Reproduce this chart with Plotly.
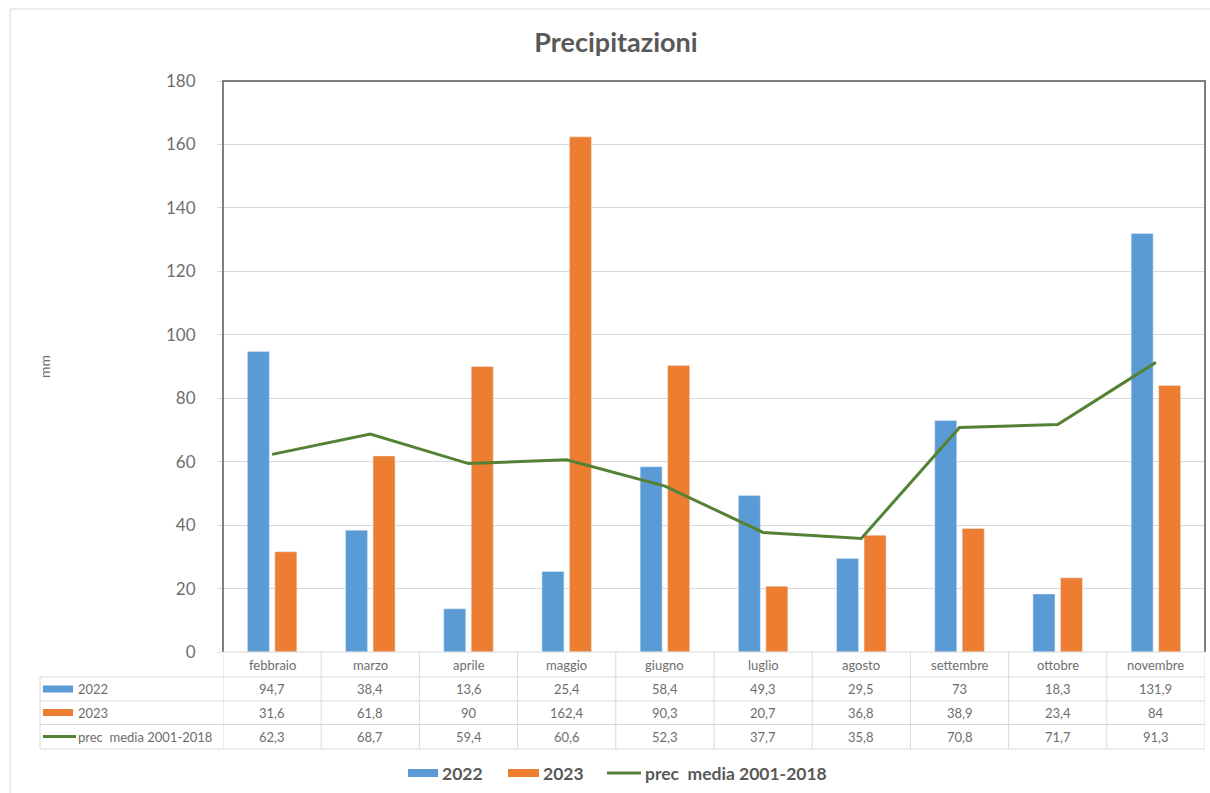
import plotly.graph_objects as go

# Monthly precipitation (mm)
mesi = ["febbraio", "marzo", "aprile", "maggio", "giugno", "luglio",
        "agosto", "settembre", "ottobre", "novembre"]
prec_2022 = [94.7, 38.4, 13.6, 25.4, 58.4, 49.3, 29.5, 73, 18.3, 131.9]
prec_2023 = [31.6, 61.8, 90, 162.4, 90.3, 20.7, 36.8, 38.9, 23.4, 84]
prec_media = [62.3, 68.7, 59.4, 60.6, 52.3, 37.7, 35.8, 70.8, 71.7, 91.3]

serie_nomi = ["2022", "2023", "prec  media 2001-2018"]
y_ticks = [0, 20, 40, 60, 80, 100, 120, 140, 160, 180]

BLU = "#5B9BD5"
ARANCIO = "#ED7D31"
VERDE = "#548235"
TESTO = "#595959"
TESTO_CHIARO = "#6E6E6E"
GRIGLIA = "#D9D9D9"
FONT = "Lato, 'Open Sans', sans-serif"

W, H = 1210, 793
ML, MR, MT, MB = 223, 5, 81, 141
PW = W - ML - MR
PH = H - MT - MB


def px_x(x):
    return (x - ML) / PW


def px_y(y):
    return 1 - (y - MT) / PH


def fmt(v):
    if float(v).is_integer():
        return str(int(v))
    return f"{v}".replace(".", ",")


fig = go.Figure()
fig.add_trace(go.Bar(x=mesi, y=prec_2022, name=serie_nomi[0],
                     marker_color=BLU, showlegend=False))
fig.add_trace(go.Bar(x=mesi, y=prec_2023, name=serie_nomi[1],
                     marker_color=ARANCIO, showlegend=False))
fig.add_trace(go.Scatter(x=mesi, y=prec_media, name=serie_nomi[2],
                         mode="lines", line=dict(color=VERDE, width=3),
                         showlegend=False))

shapes = []
annotations = []

# outer chart frame
shapes.append(dict(type="rect", xref="paper", yref="paper",
                   x0=px_x(10), y0=px_y(H + 20), x1=px_x(W + 20), y1=px_y(9),
                   line=dict(color=GRIGLIA, width=1), layer="below"))

# plot area border (left, top, right)
shapes.append(dict(type="path", xref="paper", yref="paper",
                   path="M 0 0 L 0 1 L 1 1 L 1 0",
                   line=dict(color="#7F7F7F", width=2), layer="above"))

# data table grid
row_lines = [652, 677, 701, 724.5, 749]
for i, yl in enumerate(row_lines):
    x0 = 0 if i == 0 else px_x(40)
    shapes.append(dict(type="line", xref="paper", yref="paper",
                       x0=x0, x1=1, y0=px_y(yl), y1=px_y(yl),
                       line=dict(color=GRIGLIA, width=1)))
for k in range(len(mesi) + 1):
    shapes.append(dict(type="line", xref="x", yref="paper",
                       x0=k - 0.5, x1=k - 0.5, y0=px_y(652), y1=px_y(749),
                       line=dict(color=GRIGLIA, width=1)))
shapes.append(dict(type="line", xref="paper", yref="paper",
                   x0=px_x(40), x1=px_x(40), y0=px_y(677), y1=px_y(749),
                   line=dict(color=GRIGLIA, width=1)))

# category header row
for m in mesi:
    annotations.append(dict(x=m, y=px_y(664.5), xref="x", yref="paper",
                            text=m, showarrow=False, yanchor="middle",
                            font=dict(size=13, color=TESTO_CHIARO)))

# table rows
righe = [(serie_nomi[0], prec_2022, BLU, "bar", 689),
         (serie_nomi[1], prec_2023, ARANCIO, "bar", 712.5),
         (serie_nomi[2], prec_media, VERDE, "line", 736.5)]
for nome, valori, col, kind, yc in righe:
    if kind == "bar":
        shapes.append(dict(type="rect", xref="paper", yref="paper",
                           x0=px_x(43), x1=px_x(73),
                           y0=px_y(yc + 3.5), y1=px_y(yc - 3.5),
                           fillcolor=col, line=dict(width=0)))
    else:
        shapes.append(dict(type="line", xref="paper", yref="paper",
                           x0=px_x(43), x1=px_x(76),
                           y0=px_y(yc), y1=px_y(yc),
                           line=dict(color=col, width=3)))
    annotations.append(dict(x=px_x(76), y=px_y(yc), xref="paper", yref="paper",
                            text=nome, showarrow=False, xanchor="left",
                            yanchor="middle",
                            font=dict(size=13, color=TESTO_CHIARO)))
    for m, v in zip(mesi, valori):
        annotations.append(dict(x=m, y=px_y(yc), xref="x", yref="paper",
                                text=fmt(v), showarrow=False, yanchor="middle",
                                font=dict(size=13, color=TESTO_CHIARO)))

# bottom legend
ly = 773
leg = [(serie_nomi[0], BLU, "bar", 408, 438),
       (serie_nomi[1], ARANCIO, "bar", 508, 539),
       (serie_nomi[2], VERDE, "line", 607, 641)]
for nome, col, kind, xa, xb in leg:
    if kind == "bar":
        shapes.append(dict(type="rect", xref="paper", yref="paper",
                           x0=px_x(xa), x1=px_x(xb),
                           y0=px_y(ly + 4), y1=px_y(ly - 4),
                           fillcolor=col, line=dict(width=0)))
    else:
        shapes.append(dict(type="line", xref="paper", yref="paper",
                           x0=px_x(xa), x1=px_x(xb),
                           y0=px_y(ly), y1=px_y(ly),
                           line=dict(color=col, width=3)))
    annotations.append(dict(x=px_x(xb + 2), y=px_y(ly), xref="paper",
                            yref="paper", text=f"<b>{nome}</b>",
                            showarrow=False, xanchor="left", yanchor="middle",
                            font=dict(size=17.5, color=TESTO)))

# y-axis title
annotations.append(dict(x=px_x(44), y=px_y(367), xref="paper", yref="paper",
                        text="mm", showarrow=False, textangle=-90,
                        xanchor="center", yanchor="middle",
                        font=dict(size=14, color=TESTO_CHIARO)))

fig.update_layout(
    width=W, height=H,
    margin=dict(l=ML, r=MR, t=MT, b=MB, pad=0),
    paper_bgcolor="white", plot_bgcolor="white",
    font=dict(family=FONT, color=TESTO),
    title=dict(text="<b>Precipitazioni</b>", x=616 / W, xanchor="center",
               xref="container", y=1 - 43 / H, yanchor="middle",
               font=dict(size=27, color=TESTO)),
    barmode="group", bargap=0.44, bargroupgap=0.2,
    showlegend=False,
    shapes=shapes, annotations=annotations,
    xaxis=dict(type="category", range=[-0.5, len(mesi) - 0.5],
               showticklabels=False, showgrid=False, zeroline=False,
               showline=False, ticks=""),
    yaxis=dict(range=[0, 180], tickvals=y_ticks, showgrid=True,
               gridcolor=GRIGLIA, gridwidth=1, zeroline=False,
               showline=False, ticks="outside", ticklen=5,
               tickcolor=GRIGLIA, ticklabelstandoff=18,
               tickfont=dict(size=17, color=TESTO_CHIARO)),
)

fig.write_html("out.html")
